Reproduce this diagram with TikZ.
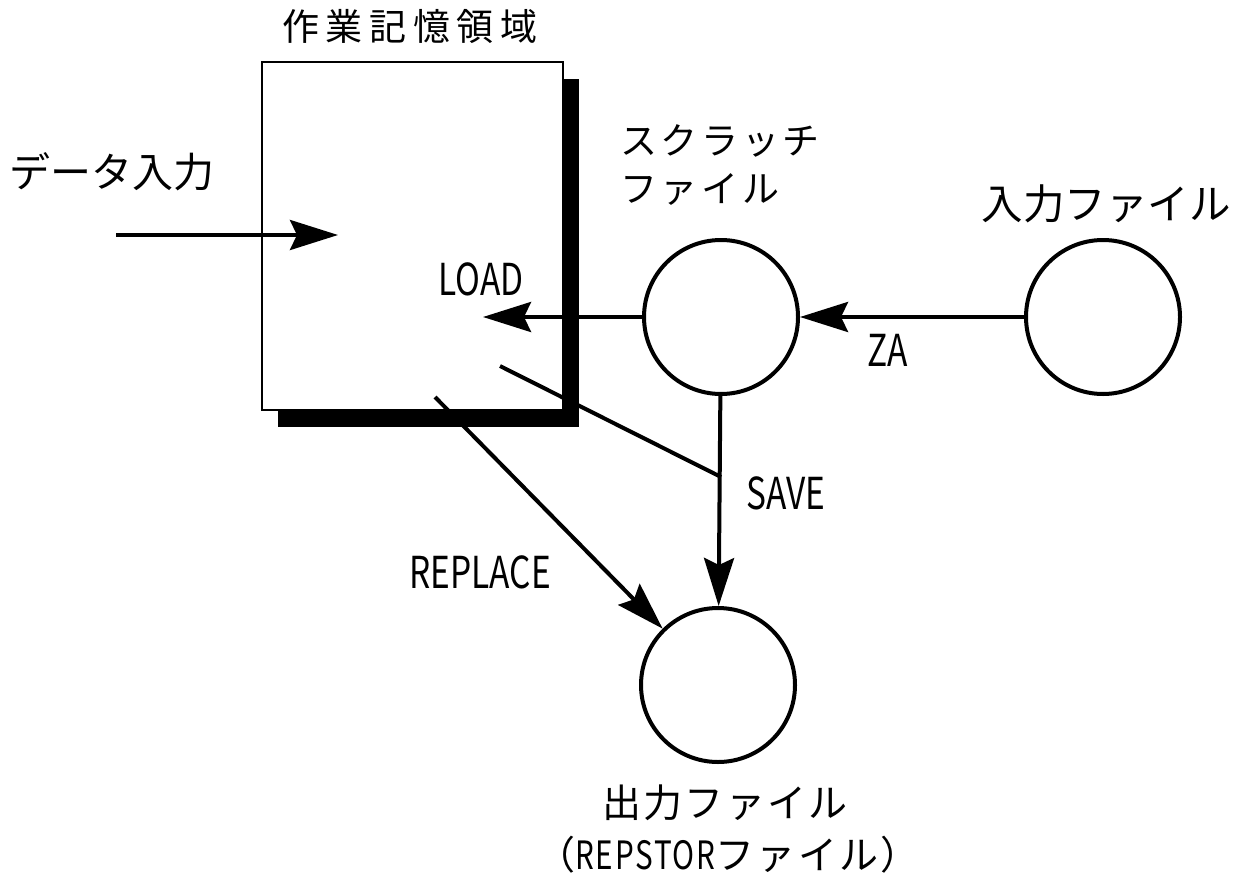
\documentclass[tikz,border=0pt]{standalone}
\usepackage{fontspec}
\setmainfont{Noto Sans CJK JP}
\newfontfamily\jp{Noto Sans CJK JP}
\newfontfamily\jpA[LetterSpace=18]{Noto Sans CJK JP}
\newfontfamily\jpB[LetterSpace=10]{Noto Sans CJK JP}
\newfontfamily\jpC[LetterSpace=6]{Noto Sans CJK JP}
\usetikzlibrary{arrows.meta,shadows}
\newcommand{\cond}[1]{\scalebox{0.76}[1]{#1}}
\tikzset{
  conn/.style={line width=4pt,-{Stealth[length=48pt,width=30pt,inset=7pt]}},
  plain/.style={line width=4pt},
  file/.style={circle,draw,line width=4pt,minimum size=154pt,inner sep=0pt,fill=white},
  lbl/.style={inner sep=0pt},
  latin/.style={inner sep=0pt,font=\jp\fontsize{44}{46}\selectfont},
}
\begin{document}
\begin{tikzpicture}[x=1pt,y=-1pt]
\path[use as bounding box,fill=white] (0,0) rectangle (1244,886);

% work area box with shadow
\node[draw,line width=2pt,fill=white,minimum width=301pt,minimum height=348pt,inner sep=0pt,
  drop shadow={shadow xshift=16pt,shadow yshift=-17pt,fill=black,opacity=1}] (box) at (412.5,236) {};

% files
\node[file] (scr) at (721,317) {};
\node[file] (inp) at (1103,317) {};
\node[file] (out) at (718,685) {};

% coordinates
\coordinate (din) at (116,235);
\coordinate (dtip) at (338,235);
\coordinate (ltip) at (483,317);
\coordinate (sst) at (500,366);
\coordinate (junc) at (721,477);
\coordinate (rst) at (435,397);

% connectors
\draw[conn] (din) -- (dtip);
\draw[conn] (scr) -- (ltip);
\draw[conn] (inp) -- (scr);
\draw[conn] (scr) -- (out);
\draw[plain] (sst) -- (junc);
\draw[conn] (rst) -- (out);

% labels
\node[lbl,font=\jpA\fontsize{37}{40}\selectfont] (tbox) at (410,26) {作業記憶領域};
\node[lbl,font=\jp\fontsize{41}{44}\selectfont] (tdata) at (112,172) {データ入力};
\node[lbl,anchor=west,font=\jpB\fontsize{37}{40}\selectfont] (tscr1) at (620,141) {スクラッチ};
\node[lbl,anchor=west,font=\jpB\fontsize{37}{40}\selectfont] (tscr2) at (620,189) {ファイル};
\node[lbl,font=\jp\fontsize{41.5}{44}\selectfont] (tinp) at (1106,204) {入力ファイル};
\node[lbl,font=\jpC\fontsize{39}{42}\selectfont] (tout1) at (725,803) {出力ファイル};
\node[lbl,font=\jpC\fontsize{39}{42}\selectfont] (tout2) at (728,855) {（\cond{REPSTOR}ファイル）};
\node[latin] (tload) at (481,279) {\cond{LOAD}};
\node[latin] (tza) at (888,350) {\cond{ZA}};
\node[latin] (tsave) at (786,493) {\cond{SAVE}};
\node[latin] (trep) at (480,572) {\cond{REPLACE}};
\end{tikzpicture}
\end{document}
